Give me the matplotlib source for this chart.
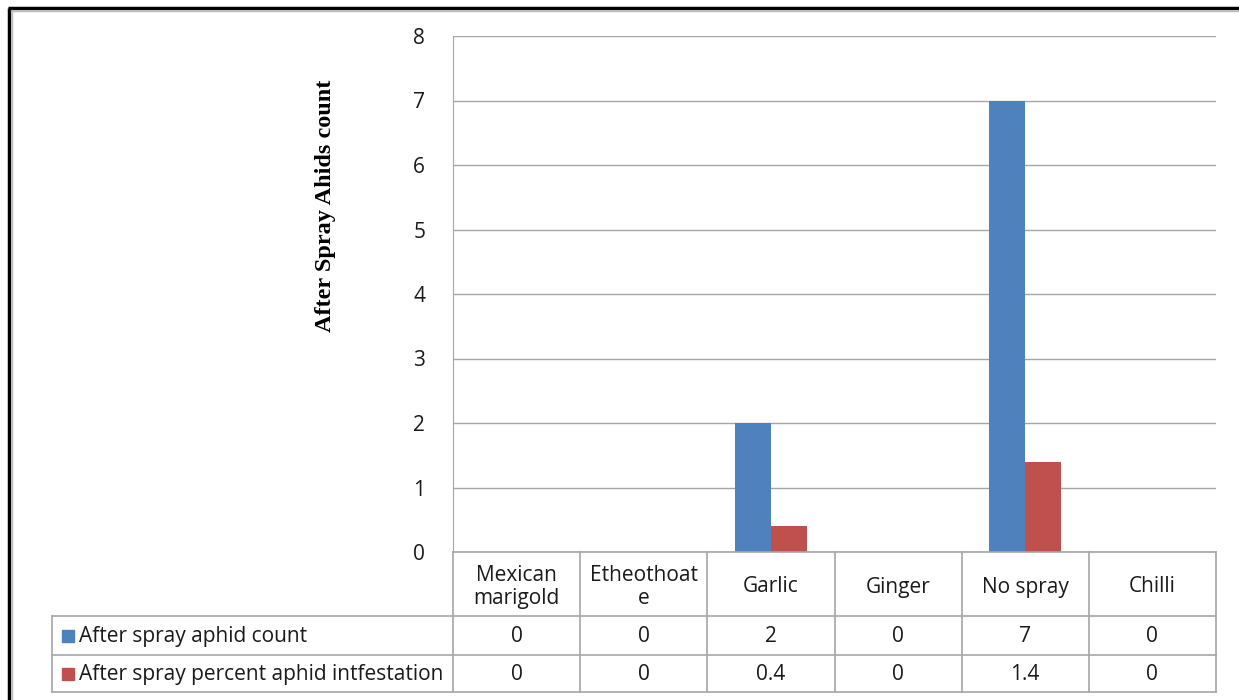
import numpy as np
import matplotlib
matplotlib.use('Agg')
import matplotlib.pyplot as plt
from matplotlib.patches import Rectangle

categories = ['Mexican\nmarigold', 'Etheothoat\ne', 'Garlic', 'Ginger', 'No spray', 'Chilli']
aphid_count = [0, 0, 2, 0, 7, 0]
percent_infestation = [0, 0, 0.4, 0, 1.4, 0]
count_labels = ['0', '0', '2', '0', '7', '0']
percent_labels = ['0', '0', '0.4', '0', '1.4', '0']
series_names = ['After spray aphid count', 'After spray percent aphid intfestation']
yticks = [0, 1, 2, 3, 4, 5, 6, 7, 8]

blue = '#4F81BD'
red = '#C0504D'
grid_col = '#A6A6A6'
txt = '#1A1A1A'
font = 'Open Sans'
fs = 15

W, H = 1239, 700
fig = plt.figure(figsize=(W / 100, H / 100), dpi=100)
fig.patch.set_facecolor('white')

def fx(px):
    return px / W

def fy(py):
    return 1 - py / H

# plot area in pixel terms
left, right, top, bottom = 453, 1216, 36, 552
ax = fig.add_axes([fx(left), fy(bottom), fx(right - left), (bottom - top) / H])
x = np.arange(len(categories))
bw = 0.283
ax.bar(x - bw / 2, aphid_count, bw, color=blue, zorder=3)
ax.bar(x + bw / 2, percent_infestation, bw, color=red, zorder=3)
ax.set_xlim(-0.5, len(categories) - 0.5)
ax.set_ylim(0, 8)
ax.set_yticks(yticks)
ax.set_yticklabels([str(t) for t in yticks], fontsize=fs, color=txt, family=font)
ax.tick_params(axis='y', length=0, pad=20)
ax.set_xticks([])
ax.yaxis.grid(True, color=grid_col, linewidth=1)
ax.set_axisbelow(True)
for s in ['top', 'right', 'bottom']:
    ax.spines[s].set_visible(False)
ax.spines['left'].set_color(grid_col)

fig.text(fx(325), fy(206), 'After Spray Ahids count', rotation=90, ha='center', va='center',
         fontsize=17.5, fontweight='bold', family='Liberation Serif', color='black')

# data table
tab = fig.add_axes([0, 0, 1, 1], facecolor='none')
tab.set_xlim(0, W)
tab.set_ylim(H, 0)
tab.axis('off')
colw = (right - left) / len(categories)
row_y = [552, 616, 655, 692]
lbl_left = 52
lw = 1.2
# horizontal lines
tab.plot([left, right], [row_y[0]] * 2, color=grid_col, lw=lw)
for yy in row_y[1:]:
    tab.plot([lbl_left, right], [yy] * 2, color=grid_col, lw=lw)
# vertical lines
for i in range(len(categories) + 1):
    xx = left + i * colw
    tab.plot([xx, xx], [row_y[0], row_y[3]], color=grid_col, lw=lw)
tab.plot([lbl_left, lbl_left], [row_y[1], row_y[3]], color=grid_col, lw=lw)

for i, c in enumerate(categories):
    cx = left + (i + 0.5) * colw
    tab.text(cx, (row_y[0] + row_y[1]) / 2 + 3, c, ha='center', va='center', fontsize=fs,
             color=txt, family=font, linespacing=1.15)
    tab.text(cx, (row_y[1] + row_y[2]) / 2 + 1, count_labels[i], ha='center', va='center',
             fontsize=fs, color=txt, family=font)
    tab.text(cx, (row_y[2] + row_y[3]) / 2 + 1, percent_labels[i], ha='center', va='center',
             fontsize=fs, color=txt, family=font)

for k, (name, col) in enumerate(zip(series_names, [blue, red])):
    cy = (row_y[k + 1] + row_y[k + 2]) / 2
    tab.add_patch(Rectangle((62, cy - 6), 12, 12, color=col))
    tab.text(79, cy + 1, name, ha='left', va='center', fontsize=fs, color=txt, family=font)

# outer frame (top and left dark edges)
tab.plot([8, W], [8, 8], color='black', lw=2.5, solid_capstyle='butt')
tab.plot([9, 9], [8, H], color='black', lw=2.5, solid_capstyle='butt')
tab.plot([11, W], [10.5, 10.5], color='#BBBBBB', lw=1)
tab.plot([11.5, 11.5], [10, H], color='#BBBBBB', lw=1)

fig.savefig('out.png', dpi=100)
